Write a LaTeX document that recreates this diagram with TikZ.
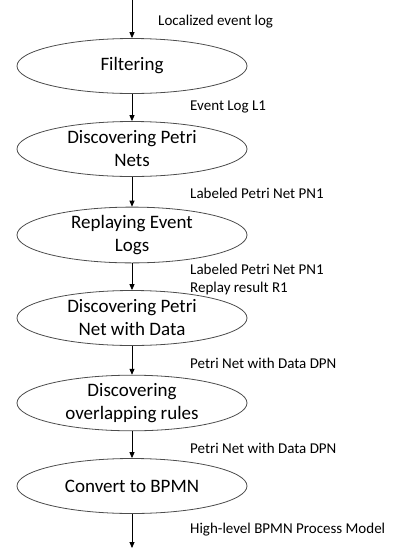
\documentclass[tikz,border=0pt]{standalone}
\usepackage{fontspec}
\setmainfont{Carlito}
\usepackage{tikz}
\usetikzlibrary{shapes.geometric, arrows.meta, positioning}
\tikzstyle{process} = [
  ellipse, draw=black!70, line width=0.8pt,
  minimum width=230pt, minimum height=55pt,
  inner sep=0pt, align=center,
  font=\fontsize{19}{23}\selectfont
]
\tikzstyle{flowlabel} = [anchor=west, align=left, inner sep=0pt, font=\fontsize{15}{18}\selectfont]
\tikzstyle{arrow} = [-{Triangle[length=6pt, width=5pt]}, line width=0.8pt]

\begin{document}
\begin{tikzpicture}[x=1pt, y=-1pt]
  \useasboundingbox (0,0) rectangle (395,550);

  % Process steps
  \node[process] (filter) at (132, 66) {Filtering};
  \node[process] (petri) at (132, 149) {Discovering Petri\\Nets};
  \node[process] (replay) at (132, 235) {Replaying Event\\Logs};
  \node[process] (datanet) at (132, 318) {Discovering Petri\\Net with Data};
  \node[process] (rules) at (132, 403) {Discovering\\overlapping rules};
  \node[process] (bpmn) at (132, 486) {Convert to BPMN};

  % Flow labels
  \node[flowlabel] (lblLog) at (158, 22) {Localized event log};
  \node[flowlabel] (lblL1) at (190, 107) {Event Log L1};
  \node[flowlabel] (lblPN) at (190, 193) {Labeled Petri Net PN1};
  \node[flowlabel] (lblR1) at (190, 279) {Labeled Petri Net PN1\\Replay result R1};
  \node[flowlabel] (lblDPN) at (190, 363) {Petri Net with Data DPN};
  \node[flowlabel] (lblDPN2) at (190, 448) {Petri Net with Data DPN};
  \node[flowlabel] (lblModel) at (190, 530) {High-level BPMN Process Model};

  % Arrows
  \coordinate (start) at (132, 0);
  \coordinate (stop) at (132, 548);
  \draw[arrow] (start) -- (filter);
  \draw[arrow] (filter) -- (petri);
  \draw[arrow] (petri) -- (replay);
  \draw[arrow] (replay) -- (datanet);
  \draw[arrow] (datanet) -- (rules);
  \draw[arrow] (rules) -- (bpmn);
  \draw[arrow] (bpmn) -- (stop);

\end{tikzpicture}
\end{document}
